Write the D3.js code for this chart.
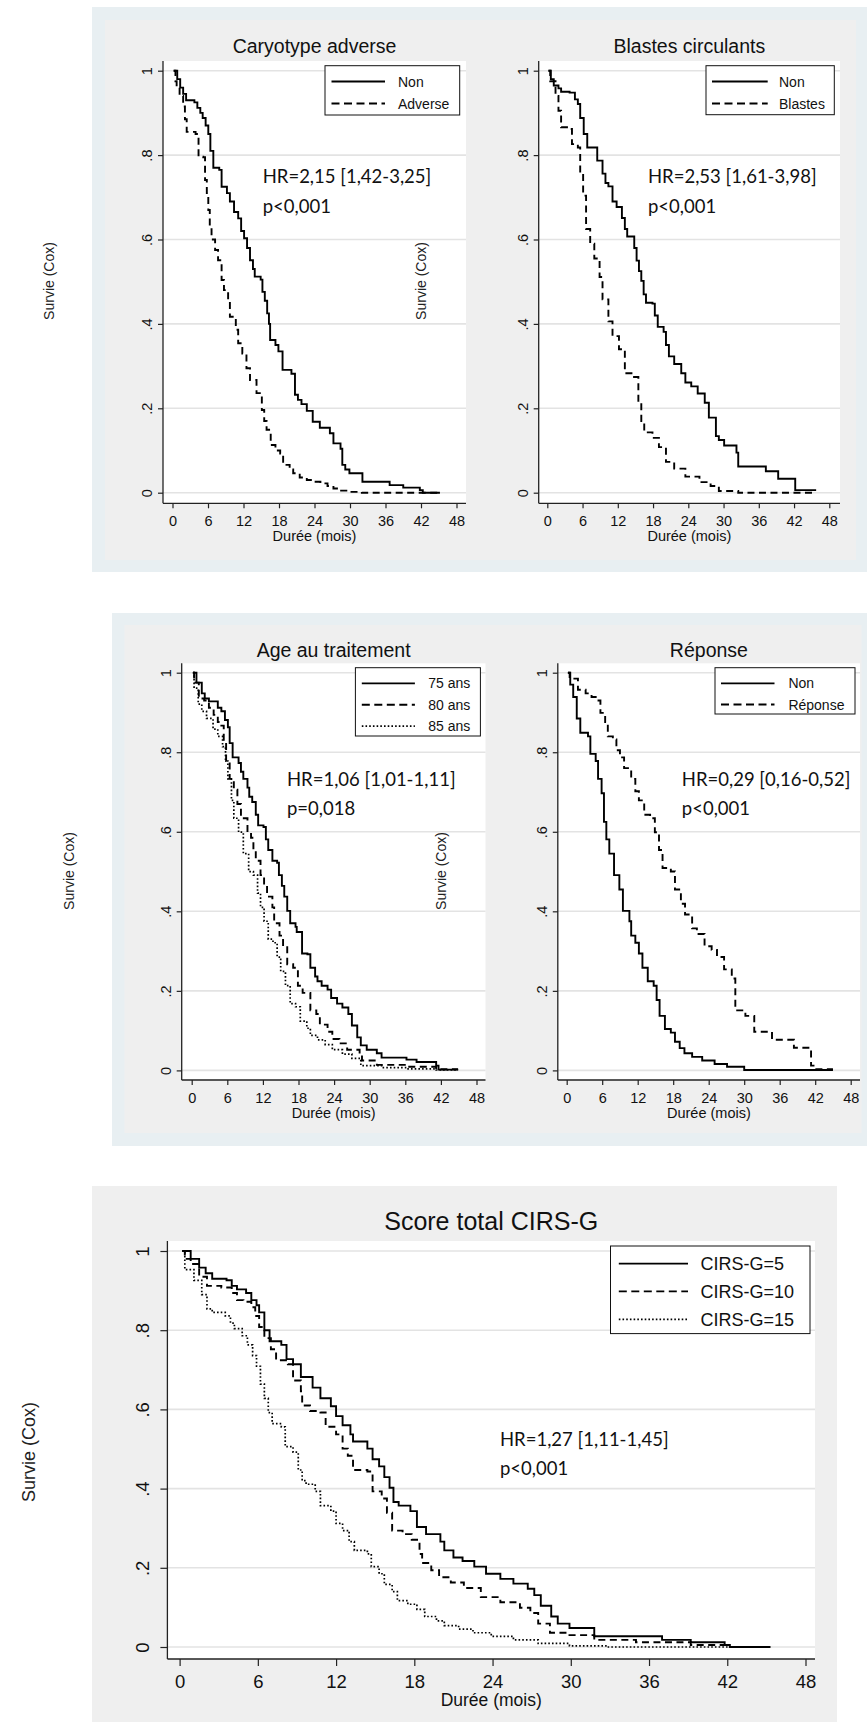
<!DOCTYPE html>
<html>
<head>
<meta charset="utf-8">
<script src="https://cdn.jsdelivr.net/npm/d3@7"></script>
<style>
  body { margin: 0; background: #ffffff; }
  svg { display: block; }
</style>
</head>
<body>
<svg id="fig" width="867" height="1724"></svg>
<script>
// ---------- axis ticks ----------
const monthTicks = [0, 6, 12, 18, 24, 30, 36, 42, 48];
const survivalTicks = [0, 0.2, 0.4, 0.6, 0.8, 1];
const survivalTickLabels = ["0", ".2", ".4", ".6", ".8", "1"];

// ---------- predicted survival curves: [month, survival] (step after) ----------
const caryotypeNon = [[0.2,1],[0.8,0.98],[1.3,0.96],[1.8,0.945],[2.3,0.93],[3.7,0.925],[4.2,0.912],[4.7,0.9],[5.1,0.888],[5.6,0.87],[6.05,0.85],[6.4,0.81],[6.9,0.77],[7.9,0.765],[8.3,0.725],[9.2,0.71],[9.7,0.69],[10.4,0.665],[11.1,0.65],[11.6,0.62],[12.1,0.603],[12.6,0.58],[13.1,0.551],[13.6,0.53],[13.9,0.512],[14.9,0.505],[15.2,0.476],[15.6,0.455],[16,0.425],[16.3,0.4],[16.5,0.362],[17.4,0.35],[17.9,0.335],[18.6,0.291],[20.1,0.282],[20.7,0.232],[21.2,0.22],[21.8,0.21],[22.7,0.194],[23.7,0.168],[24.9,0.154],[26.6,0.141],[27.2,0.117],[28.4,0.104],[28.7,0.066],[29.2,0.055],[29.9,0.046],[32.1,0.026],[36.7,0.018],[39,0.012],[41.8,0.006],[42.3,0],[45.2,0]];
const caryotypeAdverse = [[0.2,1],[0.5,0.975],[0.7,0.962],[1.2,0.94],[1.8,0.915],[2.1,0.885],[2.4,0.855],[3.9,0.85],[4.4,0.796],[5.2,0.795],[5.5,0.741],[5.8,0.71],[6.05,0.67],[6.3,0.63],[6.6,0.6],[7.2,0.575],[7.7,0.551],[8.3,0.504],[8.7,0.48],[9.4,0.456],[9.7,0.417],[10.7,0.386],[11.1,0.354],[11.8,0.33],[12.5,0.295],[13.1,0.267],[14.2,0.236],[15.1,0.196],[15.5,0.17],[15.9,0.149],[16.6,0.113],[17.4,0.1],[18.2,0.093],[18.7,0.066],[19.8,0.055],[20.4,0.046],[21.5,0.036],[22.7,0.03],[24,0.026],[25,0.022],[26.2,0.016],[27.2,0.01],[28.5,0.005],[30,0.002],[32,0],[45.2,0]];

const blastesNon = [[0.2,1],[0.6,0.98],[1.1,0.965],[1.9,0.958],[2.35,0.95],[3.8,0.948],[4.7,0.932],[5.2,0.921],[5.6,0.888],[6.2,0.85],[6.8,0.818],[8.5,0.787],[9.4,0.756],[9.9,0.734],[10.4,0.726],[11.1,0.69],[11.8,0.677],[12.7,0.651],[13.2,0.625],[13.6,0.607],[14.8,0.58],[15.2,0.55],[15.6,0.525],[16,0.502],[16.4,0.47],[16.8,0.45],[17.9,0.448],[18.3,0.42],[18.8,0.393],[19.8,0.381],[20.2,0.35],[20.7,0.323],[21.6,0.305],[22.8,0.283],[23.5,0.261],[24.5,0.252],[25.6,0.235],[26.8,0.213],[27.5,0.178],[28.7,0.134],[29.2,0.125],[30.1,0.112],[32.2,0.095],[32.5,0.062],[37.2,0.051],[39.3,0.033],[42.2,0.006],[45.6,0.004]];
const blastesOui = [[0.2,1],[0.5,0.975],[1.4,0.94],[1.9,0.905],[2.35,0.866],[3.8,0.862],[4.2,0.826],[5.2,0.818],[5.6,0.756],[6.1,0.704],[6.6,0.625],[7.3,0.59],[8,0.555],[8.9,0.511],[9.4,0.458],[10.4,0.406],[11.1,0.371],[12.2,0.34],[13.2,0.283],[14.6,0.274],[15.5,0.213],[16,0.17],[16.5,0.143],[17.9,0.13],[19,0.108],[20.2,0.073],[21.6,0.057],[23.5,0.038],[25.9,0.025],[27.8,0.016],[29.2,0.004],[32.5,0],[45.2,0]];

const age75 = [[0.2,1],[0.8,0.975],[1.7,0.948],[2.2,0.935],[2.9,0.928],[4.4,0.912],[5,0.903],[5.6,0.881],[6.1,0.863],[6.4,0.823],[6.9,0.787],[7.9,0.773],[8.3,0.751],[8.7,0.733],[9.4,0.711],[9.7,0.688],[10.2,0.675],[10.8,0.643],[11.2,0.616],[12.1,0.612],[12.5,0.581],[12.9,0.554],[13.6,0.527],[14.4,0.522],[14.7,0.491],[15.2,0.464],[15.6,0.437],[16.1,0.401],[16.6,0.37],[17.5,0.361],[17.7,0.348],[18.6,0.294],[19.5,0.292],[20,0.258],[20.8,0.236],[21.2,0.224],[21.9,0.213],[22.9,0.203],[23.5,0.182],[24.5,0.168],[25.4,0.158],[26.4,0.142],[27,0.113],[27.9,0.083],[28.5,0.063],[29.5,0.052],[31.2,0.043],[32,0.032],[36.2,0.027],[37.9,0.021],[41.2,0.012],[41.6,0.002],[44.9,0.002]];
const age80 = [[0.2,1],[0.4,0.975],[1.2,0.935],[2.1,0.93],[2.9,0.912],[3.7,0.894],[4.4,0.876],[5,0.867],[5.4,0.827],[5.8,0.778],[6.4,0.733],[7.1,0.706],[7.7,0.67],[8.3,0.634],[9.4,0.599],[10,0.585],[10.4,0.554],[10.8,0.527],[11.6,0.491],[12.2,0.464],[12.7,0.437],[13.6,0.41],[13.9,0.37],[14.8,0.339],[15.4,0.312],[16.1,0.267],[17.1,0.258],[17.9,0.213],[18.7,0.195],[20,0.151],[21,0.142],[21.6,0.115],[22.9,0.097],[23.7,0.079],[24.9,0.068],[26.2,0.052],[28.3,0.039],[28.7,0.025],[31.2,0.014],[36.2,0.009],[41.2,0.003],[44.9,0.003]];
const age85 = [[0.2,1],[0.4,0.961],[1.1,0.921],[1.7,0.903],[2.5,0.885],[3.6,0.858],[4.4,0.84],[5.2,0.814],[5.7,0.778],[6.1,0.733],[6.7,0.679],[7.1,0.634],[7.9,0.599],[8.7,0.545],[9.6,0.5],[10.4,0.491],[11.1,0.446],[11.6,0.41],[12.2,0.375],[12.9,0.33],[13.7,0.321],[14.4,0.285],[15,0.249],[15.8,0.213],[16.6,0.168],[17.5,0.16],[18.3,0.124],[19.4,0.106],[20,0.088],[21.2,0.077],[22.5,0.065],[23.7,0.052],[25.4,0.041],[27,0.03],[28.5,0.012],[32,0.007],[36.2,0.004],[41.2,0.001],[44.9,0.001]];

const reponseNon = [[0.2,1],[0.6,0.97],[1.1,0.939],[1.7,0.885],[2.3,0.849],[3.6,0.84],[4,0.796],[4.9,0.778],[5.3,0.733],[5.9,0.697],[6.3,0.625],[6.7,0.581],[7.2,0.545],[8,0.491],[8.9,0.455],[9.5,0.401],[10.6,0.375],[10.9,0.339],[11.6,0.321],[12.2,0.294],[12.8,0.258],[13.7,0.224],[14.7,0.213],[15.2,0.177],[15.7,0.137],[16.6,0.104],[17.6,0.095],[18.3,0.072],[19.1,0.056],[19.9,0.043],[21.2,0.034],[22.9,0.025],[25,0.016],[27.1,0.009],[30,0.001],[45,0.001]];
const reponseOui = [[0.2,1],[0.5,0.985],[1.9,0.957],[3.2,0.948],[4.2,0.939],[4.9,0.93],[5.7,0.899],[6.5,0.876],[6.95,0.84],[7.8,0.832],[8.4,0.805],[9,0.787],[9.7,0.76],[10.9,0.733],[11.6,0.702],[12.2,0.679],[13.1,0.643],[14.1,0.634],[14.9,0.599],[15.6,0.554],[16.2,0.509],[17.6,0.5],[18.3,0.455],[19.3,0.419],[20,0.392],[21.2,0.357],[22,0.343],[23.3,0.312],[24.5,0.303],[25.4,0.285],[26.6,0.254],[27.9,0.231],[28.5,0.151],[30.2,0.137],[31.7,0.097],[34.7,0.077],[38.4,0.057],[41.3,0.012],[42,0.003],[45,0.003]];

const cirs5 = [[0.2,1],[0.85,0.98],[1.5,0.958],[2,0.944],[2.5,0.93],[3.6,0.926],[4,0.912],[4.4,0.903],[5.1,0.894],[5.5,0.876],[5.9,0.863],[6.1,0.845],[6.5,0.8],[6.9,0.772],[7.8,0.763],[8.2,0.727],[8.7,0.714],[9.3,0.682],[10.2,0.655],[10.8,0.628],[11.6,0.608],[12,0.583],[12.5,0.56],[13.1,0.537],[13.3,0.519],[14.4,0.501],[14.8,0.474],[15.3,0.456],[15.7,0.429],[16.1,0.402],[16.4,0.366],[16.8,0.357],[17.7,0.343],[18.2,0.303],[18.9,0.285],[20,0.266],[20.3,0.244],[21,0.226],[21.7,0.217],[22.6,0.203],[23.5,0.185],[24.6,0.172],[25.6,0.16],[26.7,0.147],[27.2,0.131],[27.7,0.104],[28.5,0.077],[29,0.059],[29.9,0.048],[31.8,0.027],[37,0.018],[39.2,0.012],[41.8,0.005],[42.2,0],[45.3,0]];
const cirs10 = [[0.2,1],[0.4,0.98],[0.85,0.967],[1.5,0.935],[2.1,0.912],[3.2,0.908],[4,0.894],[4.4,0.876],[4.9,0.872],[5.5,0.858],[5.8,0.836],[6.1,0.808],[6.5,0.78],[7,0.752],[7.4,0.724],[8.3,0.714],[8.7,0.673],[9.3,0.646],[9.4,0.61],[10,0.596],[10.8,0.592],[11.2,0.556],[12,0.537],[12.5,0.501],[12.9,0.483],[13.3,0.447],[14.4,0.443],[14.8,0.393],[15.5,0.375],[15.9,0.339],[16.3,0.294],[17.1,0.285],[17.8,0.271],[18.4,0.235],[18.6,0.212],[19.3,0.194],[19.9,0.176],[20.8,0.163],[21.8,0.149],[23.1,0.126],[24.6,0.113],[26.1,0.099],[26.9,0.086],[27.5,0.059],[28.4,0.036],[29.9,0.03],[31.8,0.018],[35,0.012],[39.2,0.005],[42.2,0],[45.3,0]];
const cirs15 = [[0.2,1],[0.4,0.953],[1.1,0.926],[1.7,0.89],[2.1,0.854],[2.5,0.845],[3.5,0.836],[3.9,0.818],[4.2,0.804],[4.8,0.786],[5.2,0.763],[5.6,0.736],[5.9,0.709],[6.2,0.664],[6.5,0.628],[6.8,0.592],[7.1,0.564],[7.8,0.556],[8.1,0.506],[8.7,0.492],[9.1,0.447],[9.4,0.42],[9.7,0.411],[10.4,0.393],[10.8,0.357],[11.6,0.343],[12,0.312],[12.5,0.294],[13,0.266],[13.4,0.244],[14.4,0.235],[14.7,0.203],[15.3,0.185],[15.7,0.158],[16.3,0.14],[16.7,0.117],[17.5,0.108],[18.2,0.095],[18.8,0.077],[19.7,0.066],[20.3,0.054],[21.4,0.045],[22.5,0.036],[23.9,0.027],[25.6,0.018],[27.5,0.009],[29.9,0.003],[32.8,0],[45.3,0]];

// ---------- styles ----------
const SANS = "'Liberation Sans', Arial, sans-serif";
const HUMANIST = "Lato, 'Open Sans', sans-serif";
const DASH = { solid: null, dash: "7,4.5", dot: "1.6,2.1" };
const LEGEND_DASH = { solid: null, dash: "8,4.5", dot: "1.6,2.1" };

const svg = d3.select("#fig");

// ---------- graph backgrounds ----------
function region(x, y, w, h, fill) {
  svg.append("rect").attr("x", x).attr("y", y).attr("width", w).attr("height", h).attr("fill", fill);
}
region(92, 7, 780, 565, "#e8eff2");
region(105, 20, 751, 540, "#efefef");
region(112, 613, 760, 533, "#e8eff2");
region(124.5, 625, 737, 508, "#efefef");
region(92, 1186, 745, 536, "#efefef");

// ---------- one survival panel ----------
function drawPanel(c) {
  const g = svg.append("g");
  const p = c.plot;
  const x = d3.scaleLinear().domain([0, 48]).range(c.xRange);
  const y = d3.scaleLinear().domain([0, 1]).range(c.yRange);

  g.append("rect").attr("x", p.l).attr("y", p.t).attr("width", p.r - p.l).attr("height", p.b - p.t).attr("fill", "#ffffff");

  // horizontal grid
  g.append("g").selectAll("line").data(survivalTicks).join("line")
    .attr("x1", p.l).attr("x2", p.r)
    .attr("y1", d => y(d)).attr("y2", d => y(d))
    .attr("stroke", "#e3e3e3").attr("stroke-width", 1.6);

  // title
  g.append("text").attr("x", (p.l + p.r) / 2).attr("y", c.titleY)
    .attr("text-anchor", "middle").attr("font-family", SANS).attr("font-size", c.titleSize)
    .attr("fill", "#111").text(c.title);

  // x axis
  const gx = g.append("g").attr("transform", `translate(0,${p.b})`)
    .call(d3.axisBottom(x).tickValues(monthTicks).tickSize(c.tickLen).tickFormat(d3.format("d")));
  gx.select(".domain").remove();
  gx.selectAll(".tick line").attr("stroke", "#222").attr("stroke-width", 1.2);
  gx.selectAll(".tick text").attr("y", c.xTickBase - p.b).attr("dy", null)
    .attr("font-family", SANS).attr("font-size", c.tickSize).attr("fill", "#111");
  g.append("line").attr("x1", p.l).attr("x2", p.r).attr("y1", p.b).attr("y2", p.b)
    .attr("stroke", "#222").attr("stroke-width", 1.3);
  g.append("text").attr("x", (p.l + p.r) / 2).attr("y", c.xTitleBase)
    .attr("text-anchor", "middle").attr("font-family", SANS).attr("font-size", c.xTitleSize)
    .attr("fill", "#111").text("Durée (mois)");

  // y axis
  const gy = g.append("g").attr("transform", `translate(${p.l},0)`)
    .call(d3.axisLeft(y).tickValues(survivalTicks).tickSize(c.tickLen)
      .tickFormat(d => survivalTickLabels[survivalTicks.indexOf(d)]));
  gy.select(".domain").remove();
  gy.selectAll(".tick line").attr("stroke", "#222").attr("stroke-width", 1.2);
  gy.selectAll(".tick text").attr("x", null).attr("dy", "0.35em")
    .attr("text-anchor", "middle")
    .attr("transform", `translate(${c.yTickX - p.l},0) rotate(-90)`)
    .attr("font-family", SANS).attr("font-size", c.tickSize).attr("fill", "#111");
  g.append("line").attr("x1", p.l).attr("x2", p.l).attr("y1", p.t).attr("y2", p.b)
    .attr("stroke", "#222").attr("stroke-width", 1.3);

  // curves
  const line = d3.line().x(d => x(d[0])).y(d => y(d[1])).curve(d3.curveStepAfter);
  c.series.forEach(s => {
    g.append("path").attr("d", line(s.data)).attr("fill", "none")
      .attr("stroke", "#000").attr("stroke-width", s.style === "dot" ? 1.7 : 1.9)
      .attr("stroke-dasharray", DASH[s.style]);
  });

  // legend
  const L = c.legend;
  g.append("rect").attr("x", L.x0).attr("y", L.y0).attr("width", L.x1 - L.x0).attr("height", L.y1 - L.y0)
    .attr("fill", "#fff").attr("stroke", "#111").attr("stroke-width", 1);
  c.series.forEach((s, i) => {
    const ry = L.rows[i];
    g.append("line").attr("x1", L.lx0).attr("x2", L.lx1).attr("y1", ry).attr("y2", ry)
      .attr("stroke", "#000").attr("stroke-width", s.style === "dot" ? 1.7 : 1.9)
      .attr("stroke-dasharray", LEGEND_DASH[s.style]);
    g.append("text").attr("x", L.tx).attr("y", ry).attr("dy", "0.36em")
      .attr("font-family", SANS).attr("font-size", L.size).attr("fill", "#111").text(s.name);
  });

  // hazard ratio annotation
  c.hr.lines.forEach((t, i) => {
    g.append("text").attr("x", c.hr.x).attr("y", c.hr.ys[i])
      .attr("font-family", HUMANIST).attr("font-size", c.hr.size).attr("fill", "#111").text(t);
  });

  // y-axis titles
  c.yTitles.forEach(t => {
    g.append("text").attr("transform", `translate(${t.x},${t.y}) rotate(-90)`)
      .attr("dy", "0.35em").attr("text-anchor", "middle")
      .attr("font-family", SANS).attr("font-size", t.size).attr("fill", "#222").text("Survie (Cox)");
  });
}

// ---------- top row ----------
const topCommon = { titleY: 52.7, titleSize: 19.5, tickLen: 5, tickSize: 14.5, xTickBase: 525.7, xTitleBase: 540.7, xTitleSize: 14.5 };
drawPanel(Object.assign({}, topCommon, {
  title: "Caryotype adverse",
  plot: { l: 163, t: 61, r: 466, b: 503.3 }, xRange: [172.5, 456.5], yRange: [492.7, 70.7], yTickX: 147,
  series: [{ name: "Non", data: caryotypeNon, style: "solid" }, { name: "Adverse", data: caryotypeAdverse, style: "dash" }],
  legend: { x0: 325, y0: 65.7, x1: 459.7, y1: 115, lx0: 331.5, lx1: 385, tx: 398, rows: [81.5, 103.5], size: 14 },
  hr: { x: 262.7, ys: [183.3, 213.3], size: 18.5, lines: ["HR=2,15 [1,42-3,25]", "p<0,001"] },
  yTitles: [{ x: 48.6, y: 281, size: 14 }]
}));
drawPanel(Object.assign({}, topCommon, {
  title: "Blastes circulants",
  plot: { l: 538.7, t: 61, r: 840, b: 503.3 }, xRange: [547.3, 829.3], yRange: [492.7, 70.7], yTickX: 522.5,
  series: [{ name: "Non", data: blastesNon, style: "solid" }, { name: "Blastes", data: blastesOui, style: "dash" }],
  legend: { x0: 706, y0: 65.7, x1: 834.3, y1: 114.7, lx0: 712, lx1: 767.7, tx: 779, rows: [81.5, 103.5], size: 14 },
  hr: { x: 648, ys: [183.3, 213.3], size: 18.5, lines: ["HR=2,53 [1,61-3,98]", "p<0,001"] },
  yTitles: [{ x: 421.5, y: 281, size: 14 }]
}));

// ---------- middle row ----------
const midCommon = { titleY: 657.3, titleSize: 19.5, tickLen: 5, tickSize: 14.5, xTickBase: 1102.7, xTitleBase: 1117.7, xTitleSize: 14.5 };
drawPanel(Object.assign({}, midCommon, {
  title: "Age au traitement",
  plot: { l: 181.7, t: 663.3, r: 485.5, b: 1080 }, xRange: [191.7, 476.5], yRange: [1070.4, 672.7], yTickX: 166,
  series: [{ name: "75 ans", data: age75, style: "solid" }, { name: "80 ans", data: age80, style: "dash" }, { name: "85 ans", data: age85, style: "dot" }],
  legend: { x0: 355.4, y0: 667.7, x1: 480.4, y1: 736, lx0: 361.8, lx1: 414.9, tx: 428.3, rows: [683.4, 704.8, 726.1], size: 14 },
  hr: { x: 287, ys: [786, 815.2], size: 18.5, lines: ["HR=1,06 [1,01-1,11]", "p=0,018"] },
  yTitles: [{ x: 69, y: 871, size: 14 }]
}));
drawPanel(Object.assign({}, midCommon, {
  title: "Réponse",
  plot: { l: 557.8, t: 663.3, r: 860, b: 1080 }, xRange: [566.7, 850.7], yRange: [1070.4, 672.7], yTickX: 542,
  series: [{ name: "Non", data: reponseNon, style: "solid" }, { name: "Réponse", data: reponseOui, style: "dash" }],
  legend: { x0: 715, y0: 667.7, x1: 855, y1: 714, lx0: 721, lx1: 774.5, tx: 788.4, rows: [683.4, 704.5], size: 14 },
  hr: { x: 681.8, ys: [786, 815.2], size: 18.5, lines: ["HR=0,29 [0,16-0,52]", "p<0,001"] },
  yTitles: [{ x: 441, y: 871, size: 14 }]
}));

// ---------- bottom graph ----------
drawPanel({
  title: "Score total CIRS-G", titleY: 1230, titleSize: 25,
  plot: { l: 167.4, t: 1241, r: 815, b: 1659 }, xRange: [179.6, 805.5], yRange: [1647, 1251], yTickX: 142.5,
  tickLen: 7, tickSize: 18.5, xTickBase: 1688, xTitleBase: 1705.7, xTitleSize: 17.5,
  series: [{ name: "CIRS-G=5", data: cirs5, style: "solid" }, { name: "CIRS-G=10", data: cirs10, style: "dash" }, { name: "CIRS-G=15", data: cirs15, style: "dot" }],
  legend: { x0: 610.5, y0: 1246, x1: 810, y1: 1333.6, lx0: 618.8, lx1: 688, tx: 700.5, rows: [1263.6, 1291.4, 1319.3], size: 18 },
  hr: { x: 500, ys: [1446, 1475], size: 18.5, lines: ["HR=1,27 [1,11-1,45]", "p<0,001"] },
  yTitles: [{ x: 29, y: 1452, size: 18 }]
});
</script>
</body>
</html>
